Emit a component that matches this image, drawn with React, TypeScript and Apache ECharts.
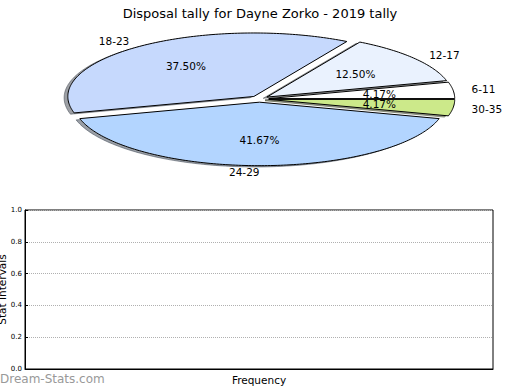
import React, { useEffect, useRef } from "react";
import * as echarts from "echarts";

const categories = ["6-11", "12-17", "18-23", "24-29", "30-35"];
const values = [1, 3, 9, 10, 1];
const sliceColors = ["#ffffff", "#eaf2fe", "#c6d9fd", "#b3d5ff", "#cce98a"];
const yTicks = [0, 0.2, 0.4, 0.6, 0.8, 1.0];
const titleText = "Disposal tally for Dayne Zorko - 2019 tally";

const FONT = "DejaVu Sans";

function shadowColor(hex: string) {
  const r = parseInt(hex.slice(1, 3), 16);
  const g = parseInt(hex.slice(3, 5), 16);
  const b = parseInt(hex.slice(5, 7), 16);
  return `rgba(${Math.round(r * 0.3)},${Math.round(g * 0.3)},${Math.round(b * 0.3)},0.5)`;
}

export default function App() {
  const ref = useRef<HTMLDivElement>(null);
  useEffect(() => {
    if (!ref.current) return;
    const chart = echarts.init(ref.current, null, { renderer: "svg" });
    const total = values.reduce((a, b) => a + b, 0);
    const cx = 259.5;
    const cy = 99;
    const Rx = 186;
    const Ry = 63.5;
    const explode = 0.05;

    const renderItem = (params: any, api: any) => {
      const i = params.dataIndex;
      let before = 0;
      for (let k = 0; k < i; k++) before += values[k];
      const v = api.value(0);
      const a0 = (before / total) * 2 * Math.PI;
      const a1 = ((before + v) / total) * 2 * Math.PI;
      const mid = (a0 + a1) / 2;
      const ox = cx + explode * Rx * Math.cos(mid);
      const oy = cy - explode * Ry * Math.sin(mid);
      const pts: number[][] = [[ox, oy]];
      const steps = Math.max(4, Math.ceil(((a1 - a0) * 180) / Math.PI));
      for (let s = 0; s <= steps; s++) {
        const t = a0 + ((a1 - a0) * s) / steps;
        pts.push([ox + Rx * Math.cos(t), oy - Ry * Math.sin(t)]);
      }
      const sdx = -0.02 * Rx;
      const sdy = 0.02 * Ry;
      const spts = pts.map((p) => [p[0] + sdx, p[1] + sdy]);
      const pct = ((v / total) * 100).toFixed(2) + "%";
      const lx = ox + 1.1 * Rx * Math.cos(mid);
      const ly = oy - 1.1 * Ry * Math.sin(mid);
      const px = ox + 0.6 * Rx * Math.cos(mid);
      const py = oy - 0.6 * Ry * Math.sin(mid);
      const color = sliceColors[i];
      return {
        type: "group",
        children: [
          {
            type: "polygon",
            z2: 1,
            shape: { points: spts },
            style: { fill: shadowColor(color), stroke: shadowColor(color), lineWidth: 1 },
          },
          {
            type: "polygon",
            z2: 10,
            shape: { points: pts },
            style: { fill: color, stroke: "#000000", lineWidth: 1, lineJoin: "miter" },
          },
          {
            type: "text",
            z2: 20,
            style: {
              text: pct,
              x: px,
              y: py,
              align: "center",
              verticalAlign: "middle",
              fontSize: 10.5,
              fontFamily: FONT,
              fill: "#000000",
            },
          },
          {
            type: "text",
            z2: 20,
            style: {
              text: categories[i],
              x: lx,
              y: ly,
              align: Math.cos(mid) < 1e-9 ? "right" : "left",
              verticalAlign: "middle",
              fontSize: 10.5,
              fontFamily: FONT,
              fill: "#000000",
            },
          },
        ],
      };
    };

    chart.setOption({
      animation: false,
      title: {
        text: titleText,
        left: "center",
        top: 2,
        textStyle: { fontSize: 13, fontWeight: "normal", color: "#000", fontFamily: FONT },
      },
      grid: {
        left: 25,
        top: 210,
        width: 468,
        height: 159,
        show: true,
        borderColor: "#000",
        borderWidth: 1,
        backgroundColor: "transparent",
        containLabel: false,
        outerBoundsMode: "none",
      },
      xAxis: {
        type: "value",
        min: 0,
        max: 1,
        name: "Frequency",
        nameLocation: "middle",
        nameGap: 5,
        nameTextStyle: { fontSize: 10.5, fontFamily: FONT, color: "#000" },
        axisLine: { show: true, lineStyle: { color: "#000" } },
        axisTick: { show: false },
        axisLabel: { show: false },
        splitLine: { show: false },
      },
      yAxis: {
        type: "value",
        min: 0,
        max: 1,
        interval: 0.2,
        name: "Stat Intervals",
        nameLocation: "middle",
        nameRotate: 90,
        nameGap: 18,
        nameMoveOverlap: false,
        nameTextStyle: { fontSize: 10.5, fontFamily: FONT, color: "#000" },
        axisLine: { show: true, lineStyle: { color: "#000" } },
        axisTick: { show: true, inside: true, length: 3, lineStyle: { color: "#000" } },
        axisLabel: {
          fontSize: 7,
          fontFamily: FONT,
          color: "#000",
          margin: 3,
          formatter: (val: number) => (yTicks.includes(Math.round(val * 10) / 10) ? val.toFixed(1) : ""),
        },
        splitLine: { show: true, lineStyle: { type: "dotted", color: "#b0b0b0", width: 1 } },
      },
      graphic: [
        {
          type: "text",
          left: 0,
          top: 373,
          style: { text: "Dream-Stats.com", fontSize: 12, fontFamily: FONT, fill: "#999999" },
        },
      ],
      series: [
        {
          type: "custom",
          coordinateSystem: "none",
          renderItem,
          data: values.map((v) => [v]),
          silent: true,
        },
      ],
    });
    return () => chart.dispose();
  }, []);
  return (
    <div
      ref={ref}
      style={{ position: "fixed", left: 0, top: 0, width: 520, height: 390, background: "#fff" }}
    />
  );
}
